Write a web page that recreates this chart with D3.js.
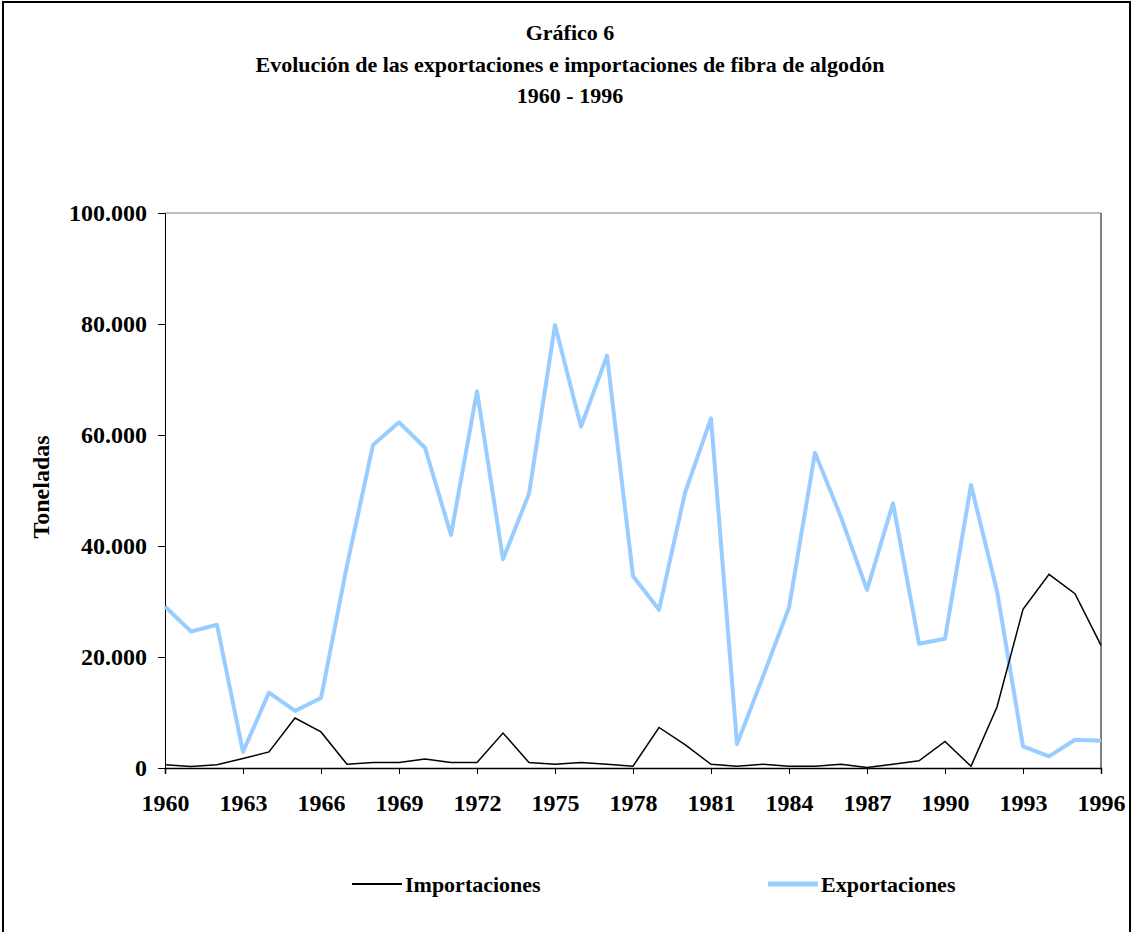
<!DOCTYPE html>
<html>
<head>
<meta charset="utf-8">
<script src="https://cdn.jsdelivr.net/npm/d3@7"></script>
<style>
  body { margin: 0; background: #fff; }
  text { font-family: "Liberation Serif", "Times New Roman", serif; font-weight: bold; fill: #000; }
</style>
</head>
<body>
<div id="chart"></div>
<script>
const years = d3.range(1960, 1997);
const exportaciones = [29100, 24600, 25800, 2900, 13600, 10300, 12600, 36500, 58200, 62300,
  57700, 42000, 67900, 37600, 49400, 79800, 61500, 74300, 34600, 28500,
  49600, 63000, 4300, 16500, 28900, 56800, 45200, 32100, 47700, 22400,
  23300, 51000, 31900, 3900, 2100, 5100, 4900];
const importaciones = [600, 270, 600, 1700, 2900, 9000, 6500, 670, 1000, 1000,
  1600, 1000, 1000, 6300, 1000, 670, 1000, 670, 330, 7300,
  4200, 670, 330, 670, 330, 330, 670, 100, 670, 1300,
  4800, 300, 11000, 28600, 34900, 31400, 22100];
const yTicks = [0, 20000, 40000, 60000, 80000, 100000];
const xTicks = d3.range(1960, 1997, 3);
const titleLines = ["Gráfico 6", "Evolución de las exportaciones e importaciones de fibra de algodón", "1960 - 1996"];

const W = 1133, H = 932;
const plot = {left: 165, top: 213, right: 1101, bottom: 768};

const svg = d3.select("#chart").append("svg")
  .attr("width", W)
  .attr("height", H);

// outer frame
svg.append("rect")
  .attr("x", 3).attr("y", 2)
  .attr("width", 1127).attr("height", 940)
  .attr("fill", "none")
  .attr("stroke", "#000")
  .attr("stroke-width", 2);

const x = d3.scaleLinear().domain([1960, 1996]).range([plot.left, plot.right]);
const y = d3.scaleLinear().domain([0, 100000]).range([plot.bottom, plot.top]);

// title
svg.selectAll(".title")
  .data(titleLines)
  .enter()
  .append("text")
  .attr("class", "title")
  .attr("x", 570)
  .attr("y", (d, i) => 40 + i * 31.5)
  .attr("text-anchor", "middle")
  .style("font-size", "22px")
  .text(d => d);

// plot frame: top gray, right black
svg.append("line")
  .attr("x1", plot.left).attr("x2", plot.right)
  .attr("y1", plot.top).attr("y2", plot.top)
  .attr("stroke", "#808080").attr("stroke-width", 1);
svg.append("line")
  .attr("x1", plot.right).attr("x2", plot.right)
  .attr("y1", plot.top).attr("y2", plot.bottom)
  .attr("stroke", "#000").attr("stroke-width", 1);

const fmt = d3.formatLocale({decimal: ",", thousands: ".", grouping: [3], currency: ["", ""]}).format(",");

const yAxis = svg.append("g")
  .attr("transform", `translate(${plot.left},0)`)
  .call(d3.axisLeft(y).tickValues(yTicks).tickSize(7).tickPadding(11).tickFormat(fmt));
yAxis.select(".domain").attr("stroke", "#000");
yAxis.selectAll("text").style("font-size", "24px").style("font-family", "Liberation Serif").style("font-weight", "bold");

const xAxis = svg.append("g")
  .attr("transform", `translate(0,${plot.bottom})`)
  .call(d3.axisBottom(x).tickValues(xTicks).tickSize(6).tickPadding(20).tickFormat(d3.format("d")));
xAxis.select(".domain").attr("stroke", "#000").attr("stroke-width", 1.5);
xAxis.selectAll("text").style("font-size", "24px").style("font-family", "Liberation Serif").style("font-weight", "bold");

svg.append("text")
  .attr("transform", "translate(49,487) rotate(-90)")
  .attr("text-anchor", "middle")
  .style("font-size", "24px")
  .text("Toneladas");

const line = d3.line()
  .x((d, i) => x(years[i]))
  .y(d => y(d));

svg.append("path")
  .datum(exportaciones)
  .attr("d", line)
  .attr("fill", "none")
  .attr("stroke", "#99ccff")
  .attr("stroke-width", 4)
  .attr("stroke-linejoin", "round");

svg.append("path")
  .datum(importaciones)
  .attr("d", line)
  .attr("fill", "none")
  .attr("stroke", "#000")
  .attr("stroke-width", 1.5);

// legend
const legend = [
  {name: "Importaciones", color: "#000", width: 2, x: 352},
  {name: "Exportaciones", color: "#99ccff", width: 5, x: 768}
];
const lg = svg.selectAll(".legend")
  .data(legend)
  .enter()
  .append("g")
  .attr("transform", d => `translate(${d.x},884)`);
lg.append("line")
  .attr("x1", 0).attr("x2", 50)
  .attr("stroke", d => d.color)
  .attr("stroke-width", d => d.width);
lg.append("text")
  .attr("x", 53)
  .attr("y", 8)
  .style("font-size", "22px")
  .text(d => d.name);
</script>
</body>
</html>
